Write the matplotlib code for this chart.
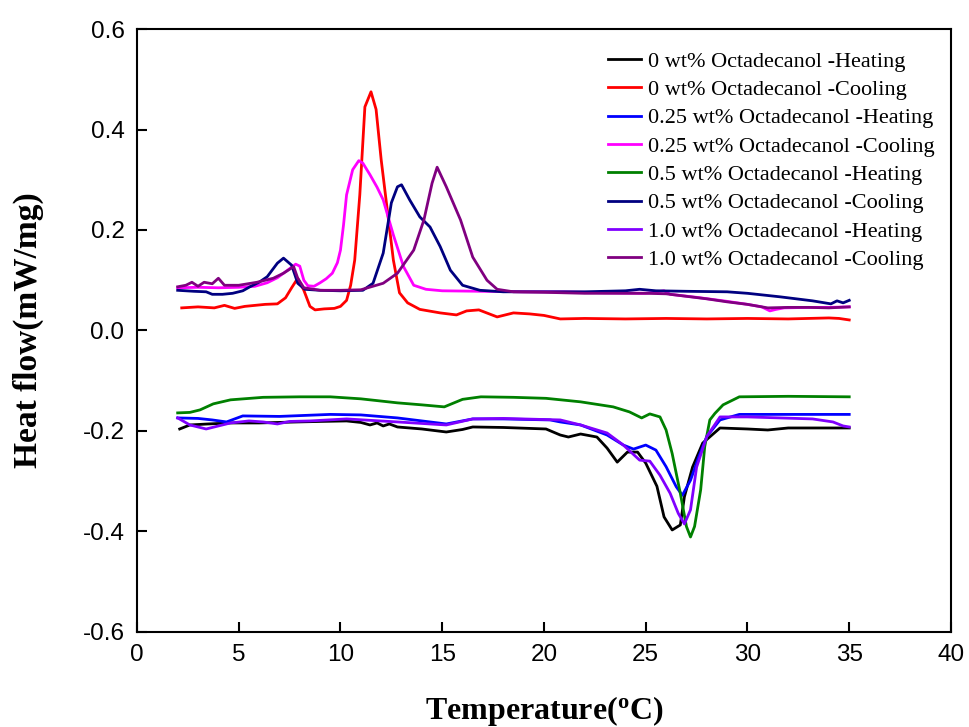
import numpy as np
import matplotlib
matplotlib.use("Agg")
import matplotlib.pyplot as plt

plt.rcParams['mathtext.fontset'] = 'custom'
plt.rcParams['mathtext.rm'] = 'Liberation Serif:bold'

# 0 wt% heating
t_0h = [2.1, 2.6, 3.5, 4.6, 6, 7.9, 9, 10.3, 11.0, 11.45, 11.8, 12.1, 12.4, 12.8, 14, 15.2, 16.0, 16.5, 18,
        20.1, 20.8, 21.2, 21.8, 22.6, 23.1, 23.6, 24.1, 24.6, 25.0, 25.55, 25.9, 26.3, 26.7, 26.9, 27.3, 27.8,
        28.65, 30, 31, 32, 35]
h_0h = [-.196, -.188, -.186, -.184, -.184, -.182, -.181, -.180, -.183, -.188, -.184, -.19, -.186, -.192, -.196,
        -.202, -.197, -.192, -.193, -.196, -.208, -.212, -.206, -.212, -.234, -.262, -.242, -.242, -.264, -.31,
        -.371, -.397, -.387, -.331, -.272, -.224, -.194, -.196, -.198, -.194, -.194]

# 0 wt% cooling
t_0c = [2.2, 3.0, 3.8, 4.3, 4.8, 5.3, 5.8, 6.3, 6.9, 7.3, 7.6, 7.9, 8.2, 8.5, 8.75, 9.2, 9.7, 10.0, 10.3, 10.5,
        10.7, 10.95, 11.2, 11.5, 11.75, 12.0, 12.3, 12.6, 12.9, 13.3, 13.9, 14.9, 15.7, 16.2, 16.8, 17.7, 18.5,
        19.3, 20.0, 20.8, 22, 24, 26, 28, 30, 32, 34, 34.5, 35]
h_0c = [.045, .047, .045, .05, .044, .048, .05, .052, .053, .065, .085, .104, .08, .048, .041, .043, .044, .048,
        .06, .09, .14, .27, .445, .475, .44, .34, .24, .14, .075, .055, .042, .035, .031, .039, .041, .027, .035,
        .033, .03, .023, .024, .023, .024, .023, .024, .023, .025, .024, .021]

# 0.25 wt% heating
t_025h = [2.0, 3.0, 3.7, 4.4, 5.2, 7.0, 9.5, 11, 12.8, 14, 15.2, 16.5, 18, 20.3, 20.8, 21.8, 23.1, 23.9, 24.4,
          25.0, 25.5, 26.0, 26.5, 26.8, 27.2, 27.6, 28.0, 28.65, 29.6, 32, 35]
h_025h = [-.174, -.175, -.178, -.182, -.170, -.171, -.167, -.168, -.174, -.18, -.186, -.176, -.176, -.178, -.182,
          -.188, -.208, -.228, -.236, -.228, -.238, -.271, -.311, -.328, -.298, -.252, -.211, -.178, -.167, -.167,
          -.167]

# 0.25 wt% cooling
t_025c = [2.0, 3, 4, 5, 5.8, 6.4, 6.9, 7.4, 7.8, 8.0, 8.2, 8.4, 8.7, 9.0, 9.3, 9.6, 9.85, 10.0, 10.15, 10.3,
          10.6, 10.9, 11.1, 11.45, 11.8, 12.1, 12.6, 13.1, 13.6, 14.2, 15, 17, 19, 21, 23, 25, 25.9, 26.2, 27.5,
          29, 30, 30.7, 31.1, 31.4, 31.8, 33, 34, 35]
h_025c = [.085, .086, .085, .086, .088, .095, .105, .12, .132, .128, .10, .089, .088, .095, .103, .114, .135,
          .16, .21, .27, .32, .338, .333, .31, .285, .26, .19, .127, .09, .082, .079, .078, .077, .077, .075, .074,
          .079, .072, .066, .058, .052, .047, .039, .042, .045, .046, .046, .047]

# 0.5 wt% heating
t_05h = [2.0, 2.6, 3.1, 3.75, 4.6, 6.2, 8, 9.5, 11, 12.8, 14, 15.1, 16.0, 16.9, 18.5, 20.1, 21.8, 23.4, 24.2,
         24.8, 25.2, 25.7, 26.0, 26.3, 26.7, 27.0, 27.2, 27.4, 27.7, 27.9, 28.15, 28.4, 28.8, 29.6, 32, 35]
h_05h = [-.164, -.163, -.158, -.146, -.138, -.133, -.132, -.132, -.136, -.144, -.148, -.152, -.137, -.132, -.133,
         -.135, -.142, -.152, -.162, -.174, -.166, -.172, -.198, -.245, -.324, -.39, -.411, -.39, -.317, -.231,
         -.178, -.165, -.148, -.132, -.131, -.132]

# 0.5 wt% cooling
t_05c = [2.0, 2.8, 3.4, 3.7, 4.2, 4.7, 5.2, 5.55, 6.0, 6.4, 6.9, 7.2, 7.6, 7.9, 8.25, 9, 10, 11.1, 11.6, 12.1,
         12.5, 12.8, 13.0, 13.4, 13.9, 14.4, 14.9, 15.4, 16.0, 16.85, 18, 20, 22, 24, 24.7, 25.5, 27, 29, 30,
         31.6, 33.2, 34.1, 34.4, 34.7, 35]
h_05c = [.08, .078, .077, .072, .072, .074, .079, .087, .096, .107, .134, .144, .13, .094, .082, .08, .079, .08,
         .094, .154, .254, .286, .29, .26, .226, .206, .167, .12, .09, .08, .077, .077, .077, .079, .082, .079,
         .078, .077, .074, .067, .059, .053, .059, .055, .06]

# 1.0 wt% heating
t_1h = [2.0, 2.6, 3.4, 4.0, 4.6, 5.5, 6.2, 6.9, 7.5, 8.5, 10.3, 12.8, 14, 15.2, 16.5, 18, 20.8, 21.8, 23.1, 23.9,
        24.7, 25.2, 25.7, 26.2, 26.6, 26.9, 27.2, 27.5, 28.0, 28.65, 30, 33.2, 34.2, 34.7, 35]
h_1h = [-.174, -.188, -.196, -.19, -.184, -.18, -.182, -.186, -.181, -.18, -.176, -.182, -.185, -.188, -.176,
        -.175, -.178, -.188, -.204, -.228, -.258, -.26, -.288, -.324, -.364, -.385, -.357, -.272, -.211, -.172,
        -.172, -.176, -.182, -.19, -.192]

# 1.0 wt% cooling
t_1c = [2.0, 2.4, 2.7, 3.0, 3.3, 3.7, 4.0, 4.3, 5.0, 5.9, 6.7, 7.2, 7.7, 7.9, 8.2, 9, 10, 11, 12.1, 12.8, 13.6,
        14.1, 14.5, 14.75, 15.2, 15.9, 16.5, 17.2, 17.7, 18.5, 20, 22, 24, 25, 26, 27, 28, 29, 30, 31, 32, 33, 34,
        35]
h_1c = [.087, .09, .096, .088, .096, .093, .104, .09, .09, .096, .104, .114, .127, .104, .085, .08, .08, .081,
        .094, .114, .16, .22, .293, .325, .286, .22, .146, .10, .082, .077, .076, .074, .074, .074, .073, .068,
        .063, .057, .052, .045, .046, .046, .045, .047]

labels = ["0 wt% Octadecanol -Heating", "0 wt% Octadecanol -Cooling",
          "0.25 wt% Octadecanol -Heating", "0.25 wt% Octadecanol -Cooling",
          "0.5 wt% Octadecanol -Heating", "0.5 wt% Octadecanol -Cooling",
          "1.0 wt% Octadecanol -Heating", "1.0 wt% Octadecanol -Cooling"]
colors = ["black", "#ff0000", "#0000ff", "#ff00ff", "#008000", "#000080", "#8000ff", "#800080"]
curves = [(t_0h, h_0h), (t_0c, h_0c), (t_025h, h_025h), (t_025c, h_025c),
          (t_05h, h_05h), (t_05c, h_05c), (t_1h, h_1h), (t_1c, h_1c)]

fig = plt.figure(figsize=(9.7, 7.27), dpi=100)
ax = fig.add_axes([0.1412, 0.1307, 0.8392, 0.8294])

for (t, h), c, lab in zip(curves, colors, labels):
    ax.plot(t, h, color=c, lw=2.0, label=lab)

ax.set_xlim(0, 40)
ax.set_ylim(-0.6, 0.6)
ax.set_xticks(np.arange(0, 41, 5))
ax.set_yticks(np.arange(-0.6, 0.61, 0.2))
ax.set_yticklabels(["%.1f" % v for v in np.arange(-0.6, 0.61, 0.2)])
ax.tick_params(direction='in', length=7, width=1.5, pad=9, labelsize=17.5)
for lbl in ax.get_xticklabels() + ax.get_yticklabels():
    lbl.set_fontfamily('Liberation Sans')
for s in ax.spines.values():
    s.set_linewidth(1.5)

ax.set_xlabel("Temperature($\\mathregular{^o}$C)", fontsize=23, fontweight='bold',
              fontfamily='Liberation Serif', labelpad=20)
ax.set_ylabel("Heat flow(mW/mg)", fontsize=24, fontweight='bold',
              fontfamily='Liberation Serif', labelpad=28)

ax.legend(loc='upper left', bbox_to_anchor=(597 / 970, 1 - 40 / 727), bbox_transform=fig.transFigure,
          frameon=False, borderpad=0, handlelength=1.5, handletextpad=0.3, labelspacing=0.35,
          prop={'family': 'Liberation Serif', 'size': 16})

fig.savefig("out.png", dpi=100)
